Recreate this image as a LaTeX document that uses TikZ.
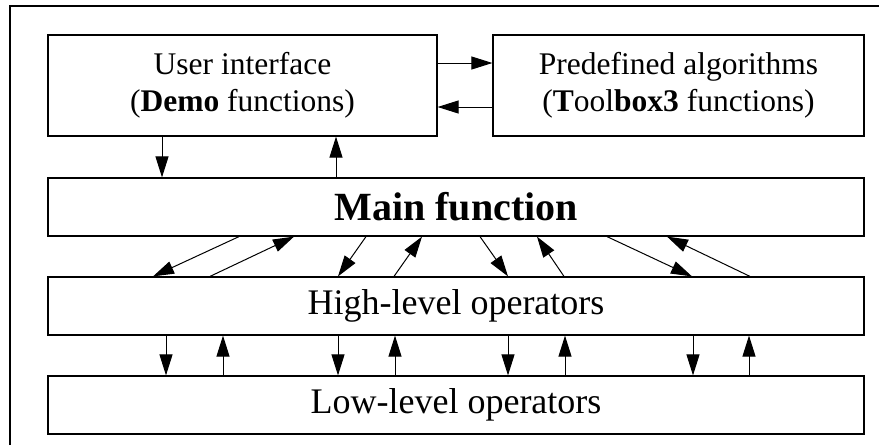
\documentclass[tikz,border=0pt]{standalone}
\usepackage{fontspec}
\setmainfont{Liberation Serif}
\usetikzlibrary{arrows.meta}
\begin{document}
\begin{tikzpicture}[x=1pt,y=-1pt,
  box/.style={draw, line width=1.2pt, rectangle, align=center, inner sep=0pt},
  arr/.style={line width=1pt, -{Triangle[length=21pt,width=13pt]}},
  frameline/.style={line width=1.2pt}]
\useasboundingbox (0,0) rectangle (879,445);
\draw[frameline] (10,445) -- (10,6) -- (879,6);
\node[box, minimum width=389pt, minimum height=101pt, font=\fontsize{31.5}{37}\selectfont] (ui) at (242.5,85.5) {User interface\\(\textbf{Demo} functions)};
\node[box, minimum width=371pt, minimum height=101pt, font=\fontsize{31.5}{37}\selectfont] (pre) at (678.5,85.5) {Predefined algorithms\\(\textbf{T}ool\textbf{box3} functions)};
\node[box, minimum width=816pt, minimum height=58pt, font=\fontsize{40}{48}\selectfont\bfseries] (main) at (456,207) {Main function};
\node[box, minimum width=816pt, minimum height=58pt, font=\fontsize{36}{42}\selectfont] (high) at (456,306) {High-level operators};
\node[box, minimum width=816pt, minimum height=58pt, font=\fontsize{36}{42}\selectfont] (low) at (456,405) {Low-level operators};
% UI <-> Predefined
\draw[arr] (ui.east |- 0,63) -- (pre.west |- 0,63);
\draw[arr] (pre.west |- 0,107) -- (ui.east |- 0,107);
% UI <-> Main
\draw[arr] (ui.south -| 162,0) -- (main.north -| 162,0);
\draw[arr] (main.north -| 336,0) -- (ui.south -| 336,0);
% Main <-> High
\draw[arr] (main.south -| 239,0) -- (high.north -| 153,0);
\draw[arr] (high.north -| 210,0) -- (main.south -| 294,0);
\draw[arr] (main.south -| 366,0) -- (high.north -| 338,0);
\draw[arr] (high.north -| 394,0) -- (main.south -| 422,0);
\draw[arr] (main.south -| 480,0) -- (high.north -| 508,0);
\draw[arr] (high.north -| 564,0) -- (main.south -| 537,0);
\draw[arr] (main.south -| 607,0) -- (high.north -| 692,0);
\draw[arr] (high.north -| 750,0) -- (main.south -| 667,0);
% High <-> Low
\draw[arr] (high.south -| 166,0) -- (low.north -| 166,0);
\draw[arr] (low.north -| 223,0) -- (high.south -| 223,0);
\draw[arr] (high.south -| 338,0) -- (low.north -| 338,0);
\draw[arr] (low.north -| 395,0) -- (high.south -| 395,0);
\draw[arr] (high.south -| 508,0) -- (low.north -| 508,0);
\draw[arr] (low.north -| 565,0) -- (high.south -| 565,0);
\draw[arr] (high.south -| 693,0) -- (low.north -| 693,0);
\draw[arr] (low.north -| 749,0) -- (high.south -| 749,0);
\end{tikzpicture}
\end{document}
